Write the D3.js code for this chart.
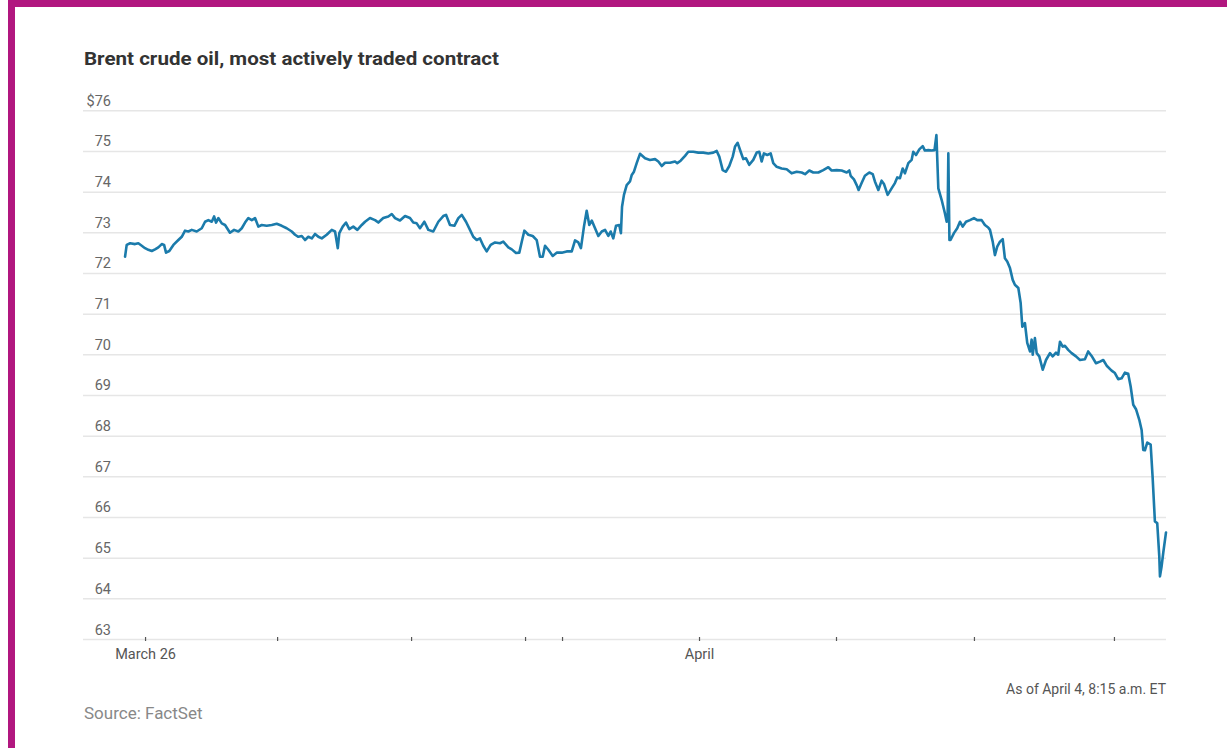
<!DOCTYPE html>
<html>
<head>
<meta charset="utf-8">
<script src="https://cdn.jsdelivr.net/npm/d3@7"></script>
<style>
  html, body { margin: 0; padding: 0; background: #fff; }
  svg { display: block; }
</style>
</head>
<body>
<svg id="chart" width="1227" height="748"></svg>
<script>
// ---- Data (x: trading-session days since March 26; y: $ per barrel) ----
const sessionDay = [
-0.146,-0.134,-0.109,-0.073,-0.049,-0.024,0,0.024,0.049,0.073,0.097,0.122,0.139,0.153,0.177,0.207,0.243,0.268,0.292,0.316,
0.341,0.377,0.414,0.438,0.462,0.487,0.504,0.518,0.535,0.560,0.584,0.620,0.650,0.681,0.706,0.730,0.754,0.779,0.803,0.827,
0.852,0.888,0.925,0.961,0.998,1.034,1.071,1.095,1.119,1.144,1.168,1.192,1.217,1.241,1.265,1.290,1.326,1.363,1.387,1.407,
1.418,1.443,1.467,1.491,1.520,1.550,1.582,1.606,1.642,1.679,1.703,1.739,1.776,1.801,1.825,1.861,1.898,1.934,1.958,1.983,
2.007,2.039,2.068,2.104,2.141,2.177,2.197,2.226,2.258,2.287,2.312,2.343,2.372,2.396,2.421,2.445,2.469,2.494,2.523,2.555,
2.591,2.615,2.652,2.677,2.708,2.732,2.750,2.769,2.798,2.830,2.859,2.883,2.903,2.920,2.944,2.976,3.005,3.042,3.078,3.115,
3.139,3.163,3.182,3.204,3.224,3.243,3.261,3.285,3.309,3.334,3.358,3.382,3.399,3.418,3.438,3.462,3.474,3.482,3.496,3.516,
3.540,3.553,3.569,3.589,3.613,3.650,3.686,3.723,3.747,3.772,3.796,3.832,3.869,3.885,3.910,3.942,3.966,4.002,4.039,4.075,
4.112,4.148,4.173,4.192,4.217,4.241,4.265,4.290,4.307,4.326,4.348,4.367,4.387,4.411,4.440,4.465,4.484,4.501,4.518,4.542,
4.567,4.586,4.611,4.647,4.684,4.720,4.757,4.793,4.818,4.849,4.878,4.915,4.951,4.988,5.012,5.049,5.085,5.122,5.141,5.151,
5.175,5.195,5.209,5.231,5.255,5.287,5.312,5.328,5.353,5.377,5.394,5.421,5.450,5.474,5.491,5.511,5.531,5.547,5.572,5.596,
5.608,5.628,5.652,5.677,5.693,5.718,5.742,5.763,5.777,5.791,5.815,5.839,5.852,5.859,5.864,5.872,5.880,5.905,5.929,5.949,
5.969,5.993,6.022,6.051,6.075,6.107,6.131,6.155,6.168,6.188,6.204,6.221,6.241,6.261,6.277,6.294,6.314,6.334,6.350,6.375,
6.392,6.404,6.423,6.440,6.460,6.472,6.480,6.496,6.509,6.528,6.553,6.577,6.606,6.626,6.650,6.666,6.679,6.699,6.715,6.739,
6.764,6.796,6.825,6.861,6.885,6.910,6.942,6.971,6.995,7.020,7.056,7.080,7.104,7.129,7.153,7.177,7.195,7.214,7.234,7.258,
7.275,7.287,7.299,7.316,7.341,7.355,7.372,7.389,7.404,7.409,7.421,7.433,7.453
];
const price = [
72.40,72.69,72.73,72.71,72.73,72.67,72.61,72.57,72.54,72.58,72.63,72.71,72.69,72.50,72.54,72.69,72.81,72.89,73.04,73.02,
73.06,73.02,73.10,73.26,73.30,73.26,73.39,73.24,73.35,73.22,73.18,72.99,73.06,73.02,73.10,73.24,73.35,73.30,73.35,73.14,
73.18,73.16,73.18,73.21,73.16,73.10,73.02,72.94,72.89,72.91,72.81,72.89,72.85,72.96,72.89,72.85,72.94,73.06,73.02,72.61,
72.98,73.14,73.24,73.08,73.14,73.06,73.18,73.26,73.35,73.30,73.24,73.35,73.39,73.45,73.35,73.29,73.40,73.35,73.24,73.22,
73.10,73.26,73.06,73.02,73.26,73.40,73.43,73.18,73.16,73.35,73.43,73.26,73.06,72.89,72.81,72.85,72.67,72.53,72.69,72.75,
72.73,72.77,72.63,72.58,72.49,72.50,72.77,73.04,72.94,72.91,72.81,72.40,72.40,72.67,72.57,72.42,72.50,72.50,72.53,72.53,
72.80,72.75,72.61,73.14,73.53,73.18,73.29,73.10,72.91,73.02,73.06,72.91,73.02,72.85,73.16,73.18,72.98,73.63,73.92,74.16,
74.25,74.41,74.49,74.70,74.93,74.82,74.78,74.80,74.74,74.63,74.71,74.71,74.74,74.70,74.76,74.88,74.98,74.98,74.96,74.96,
74.94,74.96,75.00,74.86,74.53,74.49,74.63,74.86,75.11,75.20,74.98,74.80,74.82,74.66,74.78,74.96,74.98,74.74,74.94,74.90,
74.94,74.70,74.61,74.57,74.55,74.45,74.49,74.47,74.43,74.52,74.47,74.47,74.53,74.60,74.52,74.53,74.52,74.47,74.52,74.39,
74.30,74.16,74.04,74.21,74.39,74.47,74.43,74.25,74.04,74.27,74.19,73.92,74.08,74.21,74.35,74.33,74.57,74.45,74.70,74.78,
74.98,74.90,75.04,75.12,75.01,75.02,75.01,75.02,75.39,74.08,73.80,73.47,73.26,73.43,74.94,72.81,72.81,72.98,73.10,73.26,
73.14,73.26,73.30,73.35,73.30,73.30,73.18,73.12,73.06,72.77,72.44,72.65,72.77,72.83,72.36,72.28,72.12,71.83,71.71,71.63,
71.26,70.68,70.77,70.28,70.07,70.36,69.99,70.40,70.03,69.95,69.62,69.86,70.03,69.95,70.04,69.99,70.31,70.19,70.21,70.11,
70.03,69.95,69.86,69.88,70.07,69.96,69.78,69.82,69.86,69.72,69.60,69.54,69.39,69.41,69.55,69.52,69.21,68.76,68.65,68.39,
68.14,67.65,67.64,67.83,67.78,67.00,65.89,65.85,65.03,64.54,64.79,65.12,65.62
];
const yTicks = [63, 64, 65, 66, 67, 68, 69, 70, 71, 72, 73, 74, 75, 76];
const xTickDays = [0, 0.964, 1.942, 2.774, 3.044, 4.044, 5.044, 6.051, 7.073];
const xTickLabels = ["March 26", "", "", "", "", "April", "", "", ""];
const xDomain = [-0.453, 7.453];
const yDomain = [63, 76];
const titleText = "Brent crude oil, most actively traded contract";
const noteText = "As of April 4, 8:15 a.m. ET";
const sourceText = "Source: FactSet";

// ---- Drawing ----
const svg = d3.select("#chart");
const font = "Roboto, 'Open Sans', sans-serif";

// frame
svg.append("rect").attr("x", 0).attr("y", 0).attr("width", 1227).attr("height", 748).attr("fill", "#fff");
svg.append("rect").attr("x", 8).attr("y", 0).attr("width", 1219).attr("height", 7).attr("fill", "#b1177f");
svg.append("rect").attr("x", 8).attr("y", 0).attr("width", 7).attr("height", 748).attr("fill", "#b1177f");

const x = d3.scaleLinear().domain(xDomain).range([83, 1166]);
const y = d3.scaleLinear().domain(yDomain).range([639, 110.3]);

// title
svg.append("text").attr("x", 84).attr("y", 65)
  .attr("font-family", font).attr("font-weight", 700).attr("font-size", 19)
  .attr("textLength", 415).attr("lengthAdjust", "spacingAndGlyphs")
  .attr("fill", "#333").text(titleText);

// gridlines
const yAxis = d3.axisLeft(y).tickValues(yTicks).tickSize(-(1166 - 83))
  .tickFormat(d => d === 76 ? "$" + d : String(d));
const gy = svg.append("g").attr("transform", "translate(83,0)").call(yAxis);
gy.select(".domain").remove();
gy.selectAll(".tick line").attr("stroke", "#e6e6e6").attr("stroke-width", 1.5);
gy.selectAll(".tick text")
  .attr("x", 28).attr("dy", -5).attr("text-anchor", "end")
  .attr("font-family", font).attr("font-size", 14.5).attr("fill", "#666");

// x axis
const xAxis = d3.axisBottom(x).tickValues(xTickDays).tickSize(4).tickPadding(8)
  .tickFormat((d, i) => xTickLabels[i]);
const gx = svg.append("g").attr("transform", "translate(0,637)").call(xAxis);
gx.select(".domain").remove();
gx.selectAll(".tick line").attr("stroke", "#555").attr("stroke-width", 1.2);
gx.selectAll(".tick text").attr("font-family", font).attr("font-size", 14.5).attr("fill", "#555");

// line
const pts = sessionDay.map((d, i) => [d, price[i]]);
const line = d3.line().x(d => x(d[0])).y(d => y(d[1]));
svg.append("path").datum(pts).attr("d", line)
  .attr("fill", "none").attr("stroke", "#1b7bab").attr("stroke-width", 2.6)
  .attr("stroke-linejoin", "round").attr("stroke-linecap", "round");

// notes
svg.append("text").attr("x", 1166).attr("y", 694).attr("text-anchor", "end")
  .attr("font-family", font).attr("font-size", 14).attr("fill", "#555").text(noteText);
svg.append("text").attr("x", 84).attr("y", 719)
  .attr("font-family", font).attr("font-size", 17).attr("fill", "#888").text(sourceText);
</script>
</body>
</html>
